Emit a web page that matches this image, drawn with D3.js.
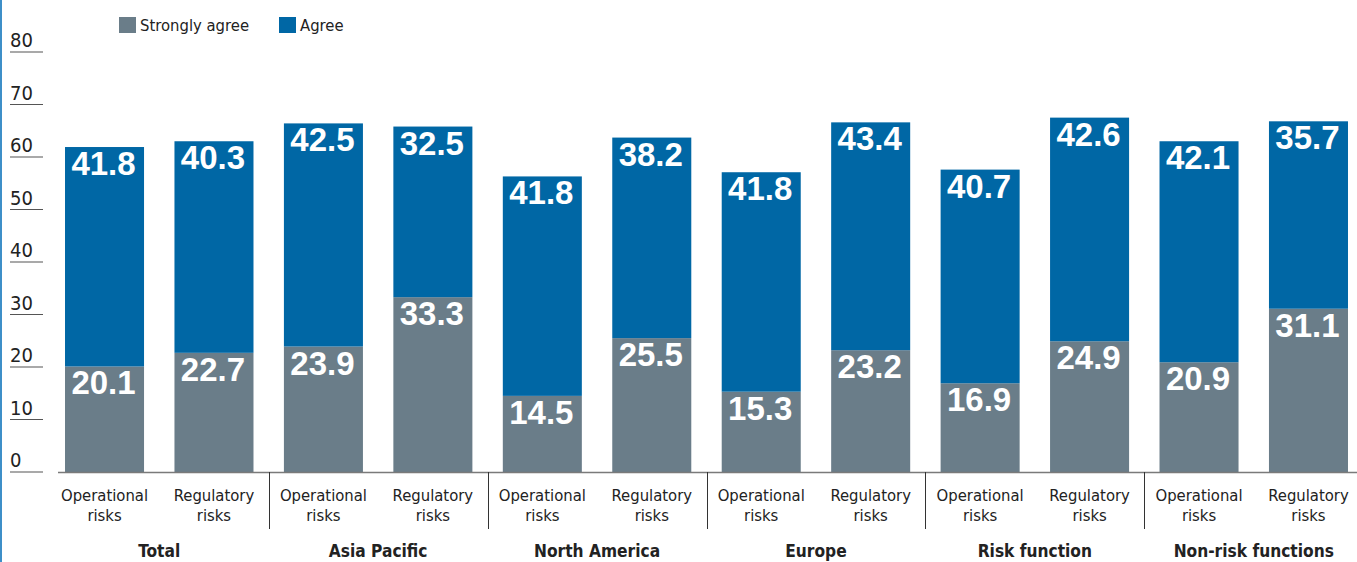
<!DOCTYPE html>
<html>
<head>
<meta charset="utf-8">
<script src="https://cdn.jsdelivr.net/npm/d3@7"></script>
<style>
  html, body { margin: 0; padding: 0; background: #fff; }
  svg { display: block; }
  .cond { font-family: "Liberation Sans Narrow", "DejaVu Sans Condensed", "Arial Narrow", sans-serif; }
  .val { font-family: "Liberation Sans", Arial, sans-serif; font-weight: bold; }
</style>
</head>
<body>
<svg id="chart" width="1357" height="562"></svg>
<script>
// Survey segments and the two risk types asked about in each
const groups = ["Total", "Asia Pacific", "North America", "Europe", "Risk function", "Non-risk functions"];
const riskTypes = [["Operational", "risks"], ["Regulatory", "risks"]];
const seriesNames = ["Strongly agree", "Agree"];
const seriesColors = ["#6a7d89", "#0067a5"];

// Percentages, one entry per bar: group by group, operational then regulatory
const stronglyAgree = [20.1, 22.7, 23.9, 33.3, 14.5, 25.5, 15.3, 23.2, 16.9, 24.9, 20.9, 31.1];
const agree         = [41.8, 40.3, 42.5, 32.5, 41.8, 38.2, 41.8, 43.4, 40.7, 42.6, 42.1, 35.7];
const yTicks = [0, 10, 20, 30, 40, 50, 60, 70, 80];

const svg = d3.select("#chart");
const W = 1357, H = 562;

// thin blue rule down the left edge
svg.append("rect").attr("x", 0).attr("y", 0).attr("width", 2).attr("height", H).attr("fill", "#3d8fc8");

const bars = [];
groups.forEach((g, gi) => riskTypes.forEach((r, ri) => {
  const i = gi * 2 + ri;
  bars.push({ key: g + "|" + r.join(" "), group: g, label: r, s: stronglyAgree[i], a: agree[i] });
}));

const x = d3.scaleBand()
  .domain(bars.map(d => d.key))
  .range([49.8, 1363.2])
  .paddingInner(0.278)
  .paddingOuter(0.139);

const y = d3.scaleLinear().domain([0, 80]).range([472, 52]);

// y-axis: short rules with the number sitting above each one
const yAxis = svg.append("g").attr("class", "y-axis");
yTicks.forEach(t => {
  yAxis.append("line")
    .attr("x1", 10).attr("x2", 43)
    .attr("y1", y(t)).attr("y2", y(t))
    .attr("stroke", "#555").attr("stroke-width", 1.2);
  yAxis.append("text")
    .attr("class", "cond")
    .attr("x", 10).attr("y", y(t) - 5)
    .attr("font-size", 20).attr("fill", "#222")
    .text(t);
});

// stacked bars
const stack = d3.stack().keys(["s", "a"])(bars);
stack.forEach((layer, li) => {
  svg.append("g").selectAll("rect")
    .data(layer)
    .join("rect")
    .attr("x", d => x(d.data.key))
    .attr("width", x.bandwidth())
    .attr("y", d => y(d[1]))
    .attr("height", d => y(d[0]) - y(d[1]))
    .attr("fill", seriesColors[li]);
});

// value labels near the top of each segment
stack.forEach((layer, li) => {
  svg.append("g").selectAll("text")
    .data(layer)
    .join("text")
    .attr("class", "val")
    .attr("x", d => x(d.data.key) + x.bandwidth() / 2 - 1)
    .attr("y", d => y(d[1]) + 28)
    .attr("text-anchor", "middle")
    .attr("font-size", 33)
    .attr("fill", "#fff")
    .text(d => (d[1] - d[0]).toFixed(1));
});

// baseline
svg.append("line")
  .attr("x1", 58).attr("x2", W)
  .attr("y1", y(0) + 0.5).attr("y2", y(0) + 0.5)
  .attr("stroke", "#7a7a7a").attr("stroke-width", 1.5);

// separators between groups
for (let gi = 1; gi < groups.length; gi++) {
  const prev = bars[gi * 2 - 1].key, next = bars[gi * 2].key;
  const sx = Math.round((x(prev) + x.bandwidth() + x(next)) / 2) + 0.5;
  svg.append("line")
    .attr("x1", sx).attr("x2", sx)
    .attr("y1", y(0)).attr("y2", 529)
    .attr("stroke", "#333").attr("stroke-width", 1);
}

// bar labels (two lines)
bars.forEach(d => {
  const cx = x(d.key) + x.bandwidth() / 2;
  const t = svg.append("text")
    .attr("class", "cond")
    .attr("text-anchor", "middle")
    .attr("font-size", 16.5)
    .attr("fill", "#222");
  t.append("tspan").attr("x", cx).attr("y", 500.5).text(d.label[0]);
  t.append("tspan").attr("x", cx).attr("y", 521).text(d.label[1]);
});

// group labels
groups.forEach((g, gi) => {
  const a = bars[gi * 2].key, b = bars[gi * 2 + 1].key;
  const cx = (x(a) + x(b) + x.bandwidth()) / 2;
  svg.append("text")
    .attr("class", "cond")
    .attr("x", cx).attr("y", 557)
    .attr("text-anchor", "middle")
    .attr("font-size", 17.2)
    .attr("font-weight", "bold")
    .attr("fill", "#222")
    .text(g);
});

// legend
const legend = svg.append("g");
const legendX = [119, 279];
seriesNames.forEach((name, i) => {
  legend.append("rect")
    .attr("x", legendX[i]).attr("y", 17)
    .attr("width", 17).attr("height", 16)
    .attr("fill", seriesColors[i]);
  legend.append("text")
    .attr("class", "cond")
    .attr("x", legendX[i] + 21).attr("y", 31)
    .attr("font-size", 16.5)
    .attr("fill", "#222")
    .text(name);
});
</script>
</body>
</html>
